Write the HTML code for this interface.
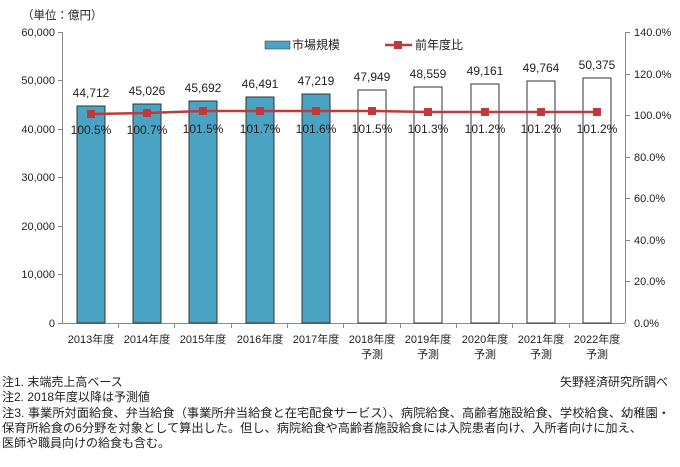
<!DOCTYPE html>
<html><head><meta charset="utf-8"><style>
body{margin:0;background:#fff;}
svg text{font-family:"Liberation Sans","Noto Sans CJK JP",sans-serif;fill:#222;}
</style></head><body>
<svg width="680" height="462" xmlns="http://www.w3.org/2000/svg">
<rect width="680" height="462" fill="#fff"/>
<text x="22" y="19" font-size="11.5">（単位：億円）</text>
<g font-size="11" text-anchor="end">
<text x="55" y="36">60,000</text><text x="55" y="84">50,000</text><text x="55" y="133">40,000</text>
<text x="55" y="181">30,000</text><text x="55" y="230">20,000</text><text x="55" y="278">10,000</text><text x="55" y="327">0</text>
</g>
<g stroke="#888" stroke-width="1">
<line x1="62.5" y1="32" x2="62.5" y2="323"/>
<line x1="58" y1="32.5" x2="62" y2="32.5"/><line x1="58" y1="80.5" x2="62" y2="80.5"/><line x1="58" y1="129.5" x2="62" y2="129.5"/>
<line x1="58" y1="177.5" x2="62" y2="177.5"/><line x1="58" y1="226.5" x2="62" y2="226.5"/><line x1="58" y1="274.5" x2="62" y2="274.5"/>
<line x1="58" y1="323.5" x2="625" y2="323.5"/>
<line x1="625.5" y1="32" x2="625.5" y2="323"/>
<line x1="625" y1="32.5" x2="630" y2="32.5"/><line x1="625" y1="74.5" x2="630" y2="74.5"/><line x1="625" y1="115.5" x2="630" y2="115.5"/>
<line x1="625" y1="157.5" x2="630" y2="157.5"/><line x1="625" y1="198.5" x2="630" y2="198.5"/><line x1="625" y1="240.5" x2="630" y2="240.5"/><line x1="625" y1="281.5" x2="630" y2="281.5"/>
<line x1="118.5" y1="323" x2="118.5" y2="328"/><line x1="174.5" y1="323" x2="174.5" y2="328"/><line x1="231.5" y1="323" x2="231.5" y2="328"/>
<line x1="287.5" y1="323" x2="287.5" y2="328"/><line x1="343.5" y1="323" x2="343.5" y2="328"/><line x1="400.5" y1="323" x2="400.5" y2="328"/>
<line x1="456.5" y1="323" x2="456.5" y2="328"/><line x1="512.5" y1="323" x2="512.5" y2="328"/><line x1="569.5" y1="323" x2="569.5" y2="328"/>
</g>
<g font-size="11">
<text x="634" y="36">140.0%</text><text x="634" y="78">120.0%</text><text x="634" y="119">100.0%</text>
<text x="634" y="161">80.0%</text><text x="634" y="202">60.0%</text><text x="634" y="244">40.0%</text><text x="634" y="285">20.0%</text><text x="634" y="327">0.0%</text>
</g>
<g fill="#4aa3c2" stroke="#333" stroke-width="1">
<rect x="77" y="106" width="28" height="217"/>
<rect x="133" y="104" width="28" height="219"/>
<rect x="189" y="101" width="28" height="222"/>
<rect x="246" y="97" width="28" height="226"/>
<rect x="302" y="94" width="28" height="229"/>
</g>
<g fill="#fff" stroke="#333" stroke-width="1">
<rect x="358" y="90" width="28" height="233"/>
<rect x="414" y="87" width="28" height="236"/>
<rect x="471" y="84" width="28" height="239"/>
<rect x="527" y="81" width="28" height="242"/>
<rect x="583" y="78" width="28" height="245"/>
</g>
<g font-size="12" text-anchor="middle">
<text x="91" y="97">44,712</text><text x="147" y="95">45,026</text><text x="203" y="92">45,692</text><text x="260" y="88">46,491</text><text x="316" y="85">47,219</text>
<text x="372" y="81">47,949</text><text x="428" y="78">48,559</text><text x="485" y="75">49,161</text><text x="541" y="72">49,764</text><text x="597" y="69">50,375</text>
</g>
<polyline fill="none" stroke="#c0393b" stroke-width="2.5" points="91,114 147,113 203,111 260,111 316,111 372,111 428,112 485,112 541,112 597,112"/>
<g fill="#c0393b">
<rect x="87" y="110" width="8" height="8"/><rect x="143" y="109" width="8" height="8"/><rect x="199" y="107" width="8" height="8"/><rect x="256" y="107" width="8" height="8"/><rect x="312" y="107" width="8" height="8"/>
<rect x="368" y="107" width="8" height="8"/><rect x="424" y="108" width="8" height="8"/><rect x="481" y="108" width="8" height="8"/><rect x="537" y="108" width="8" height="8"/><rect x="593" y="108" width="8" height="8"/>
</g>
<g font-size="12" text-anchor="middle">
<text x="91" y="134">100.5%</text><text x="147" y="134">100.7%</text><text x="203" y="133">101.5%</text><text x="260" y="133">101.7%</text><text x="316" y="133">101.6%</text>
<text x="372" y="133">101.5%</text><text x="428" y="133">101.3%</text><text x="485" y="133">101.2%</text><text x="541" y="133">101.2%</text><text x="597" y="133">101.2%</text>
</g>
<rect x="265" y="41" width="25" height="8" fill="#4aa3c2" stroke="#333" stroke-width="0.5"/>
<text x="292" y="49" font-size="12">市場規模</text>
<line x1="385" y1="45" x2="412" y2="45" stroke="#c0393b" stroke-width="2.5"/>
<rect x="394" y="41" width="8" height="8" fill="#c0393b"/>
<text x="415" y="49" font-size="12">前年度比</text>
<g font-size="11" text-anchor="middle">
<text x="91" y="343">2013年度</text><text x="147" y="343">2014年度</text><text x="203" y="343">2015年度</text><text x="260" y="343">2016年度</text><text x="316" y="343">2017年度</text>
<text x="372" y="343">2018年度</text><text x="428" y="343">2019年度</text><text x="485" y="343">2020年度</text><text x="541" y="343">2021年度</text><text x="597" y="343">2022年度</text>
<text x="372" y="358">予測</text><text x="428" y="358">予測</text><text x="485" y="358">予測</text><text x="541" y="358">予測</text><text x="597" y="358">予測</text>
</g>
<g font-size="12">
<text x="2" y="386">注1. 末端売上高ベース</text>
<text x="2" y="401">注2. 2018年度以降は予測値</text>
<text x="2" y="417" textLength="668" lengthAdjust="spacingAndGlyphs">注3. 事業所対面給食、弁当給食（事業所弁当給食と在宅配食サービス）、病院給食、高齢者施設給食、学校給食、幼稚園・</text>
<text x="2" y="432" textLength="640" lengthAdjust="spacingAndGlyphs">保育所給食の6分野を対象として算出した。但し、病院給食や高齢者施設給食には入院患者向け、入所者向けに加え、</text>
<text x="2" y="447">医師や職員向けの給食も含む。</text>
<text x="668" y="386" text-anchor="end">矢野経済研究所調べ</text>
</g>
</svg>
</body></html>
